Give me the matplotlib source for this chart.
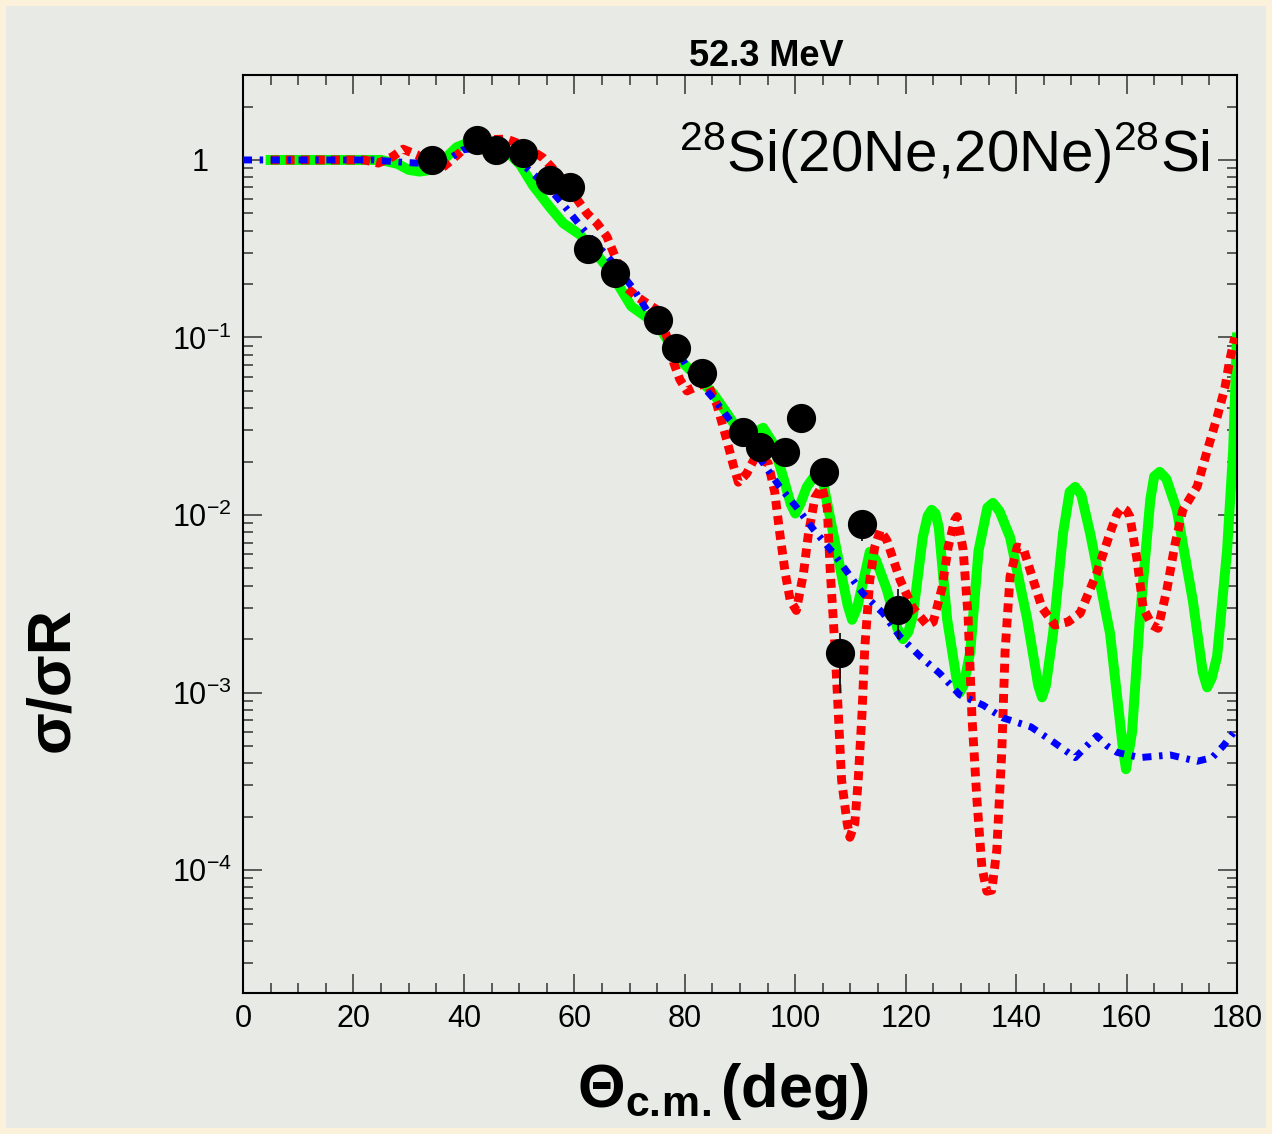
import numpy as np
import matplotlib
matplotlib.use("Agg")
import matplotlib.pyplot as plt
from matplotlib.patches import Rectangle
from matplotlib.ticker import MultipleLocator, LogLocator, NullFormatter

plt.rcParams['font.family'] = ['Liberation Sans', 'DejaVu Sans']
plt.rcParams['mathtext.fontset'] = 'custom'
plt.rcParams['mathtext.rm'] = 'Liberation Sans'
plt.rcParams['mathtext.bf'] = 'Liberation Sans:bold'
plt.rcParams['mathtext.it'] = 'Liberation Sans:italic'
plt.rcParams['mathtext.default'] = 'regular'

# measured sigma/sigma_Rutherford
theta_exp = [34.2, 42.4, 45.8, 50.7, 55.6, 59.2, 62.5, 67.4, 75.2, 78.4, 83.1,
             90.5, 93.6, 98.2, 101.1, 105.2, 108.1, 112.1, 118.6]
ratio_exp = [1.0, 1.30, 1.14, 1.09, 0.77, 0.70, 0.315, 0.231, 0.126, 0.0873, 0.063,
             0.0294, 0.0242, 0.0226, 0.0352, 0.0175, 0.00167, 0.0089, 0.00292]
err_lo = [0, 0, 0, 0, 0, 0, 0, 0, 0, 0, 0, 0, 0, 0, 0, 0, 0.00068, 0.0018, 0.00093]
err_hi = [0, 0, 0, 0, 0, 0, 0, 0, 0, 0, 0, 0, 0, 0, 0, 0, 0.0005, 0.0013, 0.0009]

# calculation 1 (solid green)
theta_green = [5, 10, 15, 20, 25, 28, 30, 32, 34, 36, 38.7, 41, 44.7, 48.4, 50.2, 52.5,
               55.6, 58, 61, 63.4, 65.9, 68.3, 70.3, 73.1, 75.5, 79.1, 82.2, 85.1, 87.6,
               90.5, 92.5, 94.2, 96, 97.8, 99.2, 100, 100.9, 102.1, 103.9, 105, 106.3,
               108.1, 109.5, 110.3, 111.2, 112.3, 113.5, 114.6, 116.6, 118.5, 119.5,
               120.5, 121.3, 123.1, 124, 124.7, 125.4, 126, 127.5, 129.2, 129.8, 130.5,
               131.7, 133.2, 134.8, 135.8, 137, 138.9, 142, 144, 144.7, 145.4, 146.7,
               148.5, 149.7, 150.7, 151.8, 153.4, 157, 159.4, 159.9, 161, 162.4, 164.3,
               165, 166, 167.2, 169.1, 172, 173.8, 174.6, 175.4, 176.4, 178.2, 179.3, 180]
ratio_green = [1.0, 1.0, 1.0, 1.0, 1.0, 0.95, 0.88, 0.86, 0.88, 0.98, 1.18, 1.26, 1.21,
               1.07, 0.94, 0.72, 0.54, 0.44, 0.38, 0.31, 0.25, 0.19, 0.15, 0.13, 0.113,
               0.075, 0.06, 0.0486, 0.0375, 0.0275, 0.029, 0.031, 0.0253, 0.0164, 0.0115,
               0.0102, 0.0115, 0.0144, 0.0173, 0.0155, 0.0097, 0.0051, 0.0031, 0.00257,
               0.003, 0.0042, 0.0062, 0.0056, 0.0038, 0.0023, 0.002, 0.0022, 0.0027,
               0.0075, 0.0099, 0.0107, 0.0102, 0.0085, 0.0026, 0.0012, 0.001, 0.0011,
               0.0017, 0.0063, 0.011, 0.0117, 0.0105, 0.0075, 0.0026, 0.0011, 0.00094,
               0.0011, 0.00216, 0.0079, 0.0135, 0.0144, 0.013, 0.0079, 0.00216, 0.00047,
               0.00037, 0.0006, 0.0026, 0.0122, 0.0165, 0.0175, 0.016, 0.0107, 0.0033,
               0.0013, 0.00107, 0.0012, 0.0016, 0.0063, 0.023, 0.1]

# calculation 2 (red dotted)
theta_red = [5, 10, 15, 20, 22, 24.5, 27, 29, 31.5, 33.9, 36, 37.8, 39.8, 43.5, 47.8,
             50.7, 54.3, 58, 60.5, 62.3, 64.1, 65.9, 67.7, 69.5, 71.3, 73.1, 75, 76.8,
             78, 79.1, 80.4, 82.2, 84, 85.8, 87.6, 88.8, 89.7, 91.2, 92.7, 95.1, 96.3,
             97.2, 98.2, 99.1, 100.2, 101.5, 102.4, 103.6, 104.8, 105.8, 106.3, 107.2,
             107.8, 108.4, 109.4, 109.9, 110.8, 111.4, 112.1, 112.6, 113.5, 114.4, 115.4,
             116.6, 119, 121.3, 123.9, 125, 126.6, 127.7, 128.9, 129.3, 130.4, 131.3,
             132, 132.9, 133.8, 134.7, 135.6, 136.5, 137.4, 138, 138.9, 140.2, 141.3,
             142.9, 144.7, 147, 149.4, 151.6, 154.6, 157, 158.3, 159.2, 160, 160.6,
             161.9, 163, 164.6, 165.7, 167.3, 168.8, 170.2, 172.8, 174.6, 176.4, 177.8,
             178.7, 179.6]
ratio_red = [1.0, 1.0, 1.0, 1.0, 1.0, 0.96, 1.04, 1.15, 1.07, 0.94, 0.9, 1.0, 1.14, 1.3,
             1.31, 1.21, 1.03, 0.77, 0.6, 0.5, 0.44, 0.37, 0.27, 0.19, 0.17, 0.156, 0.143,
             0.1, 0.072, 0.058, 0.05, 0.053, 0.056, 0.042, 0.0265, 0.019, 0.0153, 0.0171,
             0.021, 0.0196, 0.0134, 0.0079, 0.0047, 0.0033, 0.0029, 0.0047, 0.0079,
             0.0126, 0.0144, 0.011, 0.0051, 0.0018, 7.7e-4, 3.2e-4, 1.84e-4, 1.53e-4,
             1.84e-4, 3.2e-4, 7.7e-4, 0.0018, 0.0043, 0.0066, 0.0082, 0.0072, 0.0043,
             0.003, 0.0024, 0.0025, 0.0039, 0.0066, 0.0094, 0.0098, 0.0064, 0.0027,
             7.3e-4, 2.5e-4, 1.04e-4, 7.6e-5, 7.7e-5, 1.3e-4, 4.6e-4, 0.0017, 0.0045,
             0.0066, 0.0065, 0.0045, 0.003, 0.0024, 0.0025, 0.0028, 0.0047, 0.0079,
             0.0102, 0.011, 0.0106, 0.0098, 0.0056, 0.003, 0.0024, 0.0023, 0.0038,
             0.0069, 0.0107, 0.0145, 0.023, 0.0356, 0.052, 0.075, 0.1]

# calculation 3 (blue dash-dot)
theta_blue = [0, 5, 10, 15, 20, 23.5, 29, 31.5, 34, 37, 39.8, 43.5, 47.1, 50.7, 53.2,
              56.2, 58, 61, 63.4, 66.1, 70.6, 73.1, 76.8, 80.4, 83.3, 85.1, 88.2, 94.2,
              97.2, 100.2, 103.3, 106.9, 112.3, 115.9, 119, 122.6, 126.2, 129.8, 134,
              137.6, 142.7, 147, 150.7, 152.5, 154.6, 156.5, 158.3, 162.4, 167.9, 172.8,
              175.5, 177.5, 180]
ratio_blue = [1.0, 1.0, 1.0, 1.0, 1.0, 1.0, 0.97, 0.96, 0.97, 1.0, 1.14, 1.18, 1.18,
              0.94, 0.8, 0.65, 0.56, 0.43, 0.35, 0.285, 0.19, 0.143, 0.106, 0.068, 0.053,
              0.0457, 0.0342, 0.0196, 0.0144, 0.0111, 0.0083, 0.0061, 0.0036, 0.0028,
              0.00206, 0.0016, 0.00128, 9.7e-4, 8.5e-4, 7.2e-4, 6.4e-4, 5.2e-4, 4.3e-4,
              4.9e-4, 5.7e-4, 5.0e-4, 4.6e-4, 4.3e-4, 4.45e-4, 4.1e-4, 4.3e-4, 5.0e-4,
              6.3e-4]

ytick_vals = [1e-4, 1e-3, 1e-2, 1e-1, 1]
ytick_text = ['10$^{-4}$', '10$^{-3}$', '10$^{-2}$', '10$^{-1}$', '1']

W, H = 1272, 1134
fig = plt.figure(figsize=(W / 100, H / 100), dpi=100, facecolor='#fcf1da')
fig.patches.append(Rectangle((6 / W, 6 / H), 1 - 12 / W, 1 - 12 / H,
                             transform=fig.transFigure, facecolor='#e8eae6',
                             edgecolor='none', zorder=-1))

ax = fig.add_axes([243 / W, 1 - 993 / H, (1237 - 243) / W, (993 - 75) / H])
ax.set_facecolor('none')

ax.plot(theta_green, ratio_green, color='#00ff00', lw=7.2,
        solid_joinstyle='round', zorder=2)
ax.plot(theta_red, ratio_red, color='#ff0000', lw=6.4,
        linestyle=(0, (1.0, 0.7)), zorder=3)
ax.plot(theta_blue, ratio_blue, color='#0000ff', lw=5.0,
        linestyle=(0, (1.3, 1.1, 0.5, 1.1)), zorder=4)
ax.errorbar(theta_exp, ratio_exp, yerr=[err_lo, err_hi], fmt='o', color='black',
            ms=20, elinewidth=1.2, capsize=0, zorder=5)

ax.set_yscale('log')
ax.set_xlim(0, 180)
ax.set_ylim(2.03e-5, 3.01)

ax.xaxis.set_major_locator(MultipleLocator(20))
ax.xaxis.set_minor_locator(MultipleLocator(5))
ax.set_yticks(ytick_vals, labels=ytick_text)
ax.yaxis.set_minor_locator(LogLocator(base=10, subs=np.arange(2, 10), numticks=30))
ax.yaxis.set_minor_formatter(NullFormatter())

ax.tick_params(which='both', direction='in', top=True, right=True,
               color='#333333', width=1.1)
ax.tick_params(which='major', length=14, labelsize=22, pad=8)
ax.tick_params(which='minor', length=7)
# plain "1" sits further from the axis than the 10^n labels
ax.yaxis.get_major_ticks()[-1].set_pad(25)
for sp in ax.spines.values():
    sp.set_linewidth(1.5)

fig.text(766 / W, 1 - 57 / H, '52.3 MeV', ha='center', va='center',
         fontsize=26, fontweight='bold')
fig.text(1210 / W, 1 - 172 / H, r'$^{28}$Si(20Ne,20Ne)$^{28}$Si',
         ha='right', va='baseline', fontsize=42)
fig.text(577 / W, 1 - 1107 / H, r'$\mathbf{\Theta}_{\mathbf{c.\!m.}}$(deg)',
         ha='left', va='baseline', fontsize=44, fontweight='bold')
fig.text(53 / W, 1 - 679 / H, 'σ/σR', rotation=90, ha='center', va='center',
         fontsize=44, fontweight='bold')

fig.savefig('out.png', dpi=100, facecolor=fig.get_facecolor())
